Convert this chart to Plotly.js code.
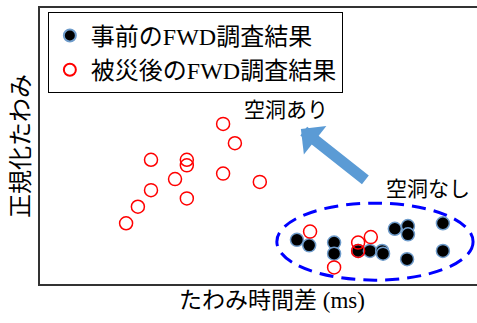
<!DOCTYPE html>
<html>
<head>
<meta charset="utf-8">
<script src="https://cdn.plot.ly/plotly-3.0.1.min.js"></script>
<style>
  html, body { margin: 0; padding: 0; background: #ffffff; }
  #chart { width: 477px; height: 323px; }
</style>
</head>
<body>
<div id="chart"></div>
<script>
// 事前のFWD調査結果 (before the disaster)
const beforeX = [5.88, 6.16, 6.73, 6.73, 7.28, 7.55, 7.83, 7.85, 8.12, 8.42, 8.42, 8.40, 9.22, 9.22];
const beforeY = [0.16, 0.14, 0.15, 0.11, 0.12, 0.12, 0.12, 0.11, 0.20, 0.21, 0.18, 0.09, 0.22, 0.12];

// 被災後のFWD調査結果 (after the disaster)
const afterX = [4.19, 4.46, 2.54, 3.36, 3.36, 4.19, 3.09, 5.03, 2.54, 3.36, 2.24, 1.97, 6.18, 7.28, 7.57, 7.28, 6.73];
const afterY = [0.58, 0.51, 0.45, 0.45, 0.43, 0.40, 0.38, 0.37, 0.34, 0.31, 0.28, 0.22, 0.19, 0.15, 0.17, 0.12, 0.06];

const seriesNames = ['事前のFWD調査結果', '被災後のFWD調査結果'];

const mixFont = '"Liberation Serif", "Noto Sans CJK JP", serif';
const cjkFont = '"Noto Sans CJK JP", sans-serif';

const traces = [
    {
        x: beforeX,
        y: beforeY,
        mode: 'markers',
        type: 'scatter',
        name: seriesNames[0],
        marker: { size: 13, color: '#000000', line: { color: '#6f9ccb', width: 1.5 } }
    },
    {
        x: afterX,
        y: afterY,
        mode: 'markers',
        type: 'scatter',
        name: seriesNames[1],
        marker: { size: 13, symbol: 'circle-open', color: '#ff0000', line: { width: 1.5 } }
    }
];

const layout = {
    width: 477,
    height: 323,
    margin: { t: 8, r: 0, b: 39, l: 40 },
    plot_bgcolor: '#ffffff',
    paper_bgcolor: '#ffffff',
    font: { family: mixFont, color: '#000000' },
    showlegend: true,
    legend: {
        x: 0.018,
        y: 0.984,
        xanchor: 'left',
        yanchor: 'top',
        bgcolor: '#ffffff',
        bordercolor: '#000000',
        borderwidth: 1,
        itemwidth: 32,
        itemsizing: 'constant',
        entrywidth: 284,
        font: { family: mixFont, size: 24 }
    },
    xaxis: {
        range: [0, 10],
        showgrid: false,
        zeroline: false,
        showticklabels: false,
        ticks: '',
        showline: true,
        mirror: true,
        linecolor: '#333333',
        linewidth: 2
    },
    yaxis: {
        range: [0, 1],
        showgrid: false,
        zeroline: false,
        showticklabels: false,
        ticks: '',
        showline: true,
        linecolor: '#333333',
        linewidth: 2,
        title: { text: '正規化たわみ', font: { family: cjkFont, size: 24 }, standoff: 2 }
    },
    shapes: [{
        type: 'circle',
        xref: 'x', yref: 'y',
        x0: 5.42, x1: 9.91, y0: 0.014, y1: 0.293,
        line: { color: '#0000ff', width: 3, dash: '14px,8px' }
    }],
    annotations: [
        {
            // x axis title, sits a little right of the plot centre
            x: 0.531, y: -0.058, xref: 'paper', yref: 'paper',
            yanchor: 'middle',
            text: 'たわみ時間差 (ms)', showarrow: false,
            font: { family: mixFont, size: 23, color: '#000000' }
        },
        {
            x: 5.63, y: 0.638, xref: 'x', yref: 'y',
            text: '空洞あり', showarrow: false,
            font: { family: cjkFont, size: 21, color: '#000000' }
        },
        {
            x: 8.88, y: 0.351, xref: 'x', yref: 'y',
            text: '空洞なし', showarrow: false,
            font: { family: cjkFont, size: 21, color: '#000000' }
        },
        {
            x: 5.97, y: 0.562, xref: 'x', yref: 'y',
            ax: 7.48, ay: 0.373, axref: 'x', ayref: 'y',
            text: '', showarrow: true,
            arrowhead: 1, arrowsize: 0.55, arrowwidth: 11,
            arrowcolor: '#5b9bd5'
        }
    ]
};

Plotly.newPlot('chart', traces, layout, { displayModeBar: false, staticPlot: true });
</script>
</body>
</html>
